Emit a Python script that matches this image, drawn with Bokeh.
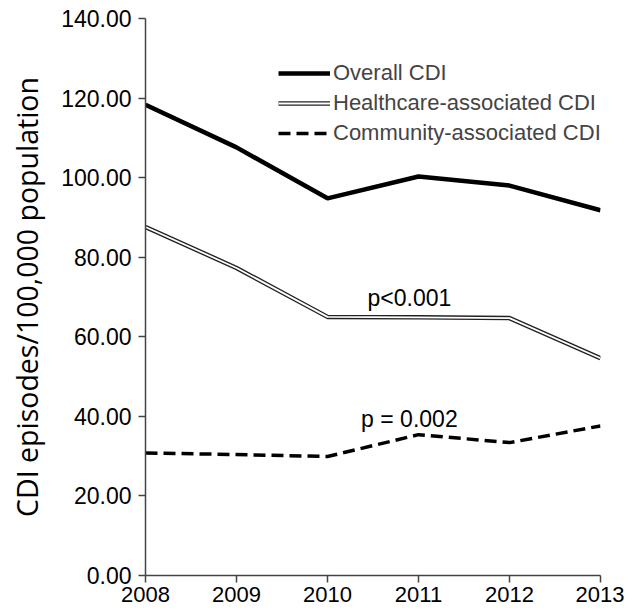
from bokeh.plotting import figure
from bokeh.models import (FixedTicker, NumeralTickFormatter, Range1d, Legend, LegendItem,
                          Label, ColumnDataSource)
from bokeh.embed import file_html
from bokeh.resources import INLINE

years = [2008, 2009, 2010, 2011, 2012, 2013]
overall = [118.3, 107.6, 94.8, 100.3, 98.0, 91.8]
healthcare = [87.6, 77.3, 65.0, 64.9, 64.7, 54.6]
community = [30.8, 30.4, 29.9, 35.4, 33.4, 37.6]
y_ticks = [0, 20, 40, 60, 80, 100, 120, 140]
series_names = ["Overall CDI", "Healthcare-associated CDI", "Community-associated CDI"]
annotations = [(2010.9, 69.8, "p<0.001"), (2010.9, 39.3, "p = 0.002")]

FONT = "Liberation Sans"

p = figure(width=624, height=614, output_backend="svg", toolbar_location=None,
           x_range=Range1d(2008, 2013), y_range=Range1d(0, 140),
           min_border_left=145, min_border_right=24, min_border_top=18, min_border_bottom=39)
p.outline_line_color = None
p.grid.grid_line_color = None

src = ColumnDataSource(dict(x=years, o=overall, h=healthcare, c=community))
r_o = p.line("x", "o", source=src, line_color="black", line_width=4.5)
r_h1 = p.line("x", "h", source=src, line_color="#222222", line_width=4.5)
r_h2 = p.line("x", "h", source=src, line_color="white", line_width=1.8)
r_c = p.line("x", "c", source=src, line_color="black", line_width=3.5, line_dash="12 6")

for x, y, t in annotations:
    p.add_layout(Label(x=x, y=y, text=t, text_align="center", text_baseline="middle",
                       text_font=FONT, text_font_size="23px", text_color="black"))

legend = Legend(items=[LegendItem(label=series_names[0], renderers=[r_o]),
                       LegendItem(label=series_names[1], renderers=[r_h1, r_h2]),
                       LegendItem(label=series_names[2], renderers=[r_c])],
                location=(133, 429), orientation="vertical",
                padding=0, margin=0, spacing=4, glyph_width=52, glyph_height=22,
                label_height=22, label_standoff=3,
                label_text_font=FONT, label_text_font_size="22px",
                border_line_color=None, background_fill_alpha=0)
p.add_layout(legend, "center")

p.xaxis.ticker = FixedTicker(ticks=years)
p.xaxis.major_label_overrides = {y: str(y) for y in years}
p.yaxis.ticker = FixedTicker(ticks=y_ticks)
p.yaxis.formatter = NumeralTickFormatter(format="0.00")
for ax in (p.xaxis, p.yaxis):
    ax.axis_line_color = "#444444"
    ax.axis_line_width = 1.5
    ax.major_tick_line_color = "#444444"
    ax.major_tick_line_width = 1.5
    ax.major_tick_out = 7
    ax.major_tick_in = 0
    ax.minor_tick_line_color = None
    ax.major_label_text_font = FONT
    ax.major_label_text_font_size = "23px"
    ax.major_label_text_color = "black"
p.xaxis.major_label_text_font_size = "22px"
p.xaxis.major_label_standoff = 4
p.yaxis.major_label_standoff = 7
p.yaxis.axis_label = "CDI episodes/100,000 population"
p.yaxis.axis_label_text_font = "Open Sans"
p.yaxis.axis_label_text_font_style = "normal"
p.yaxis.axis_label_text_font_size = "28.5px"
p.yaxis.axis_label_text_color = "black"
p.yaxis.axis_label_standoff = 12

open("out.html", "w").write(file_html(p, INLINE))
